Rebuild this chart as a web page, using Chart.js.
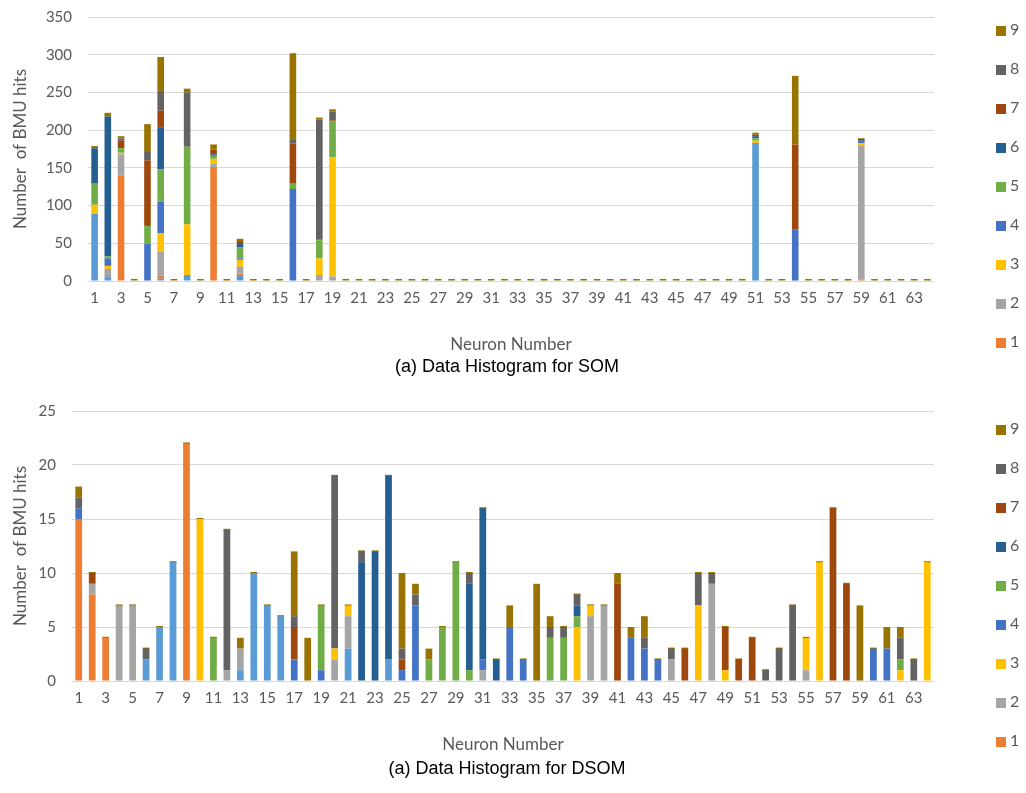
<!DOCTYPE html>
<html lang="en">
<head>
<meta charset="UTF-8">
<title>Data Histograms for SOM and DSOM</title>
<script src="https://cdn.jsdelivr.net/npm/chart.js"></script>
<style>
  body { margin: 0; background: #fff; width: 1026px; height: 793px; position: relative; overflow: hidden; }
  canvas { position: absolute; left: 0; }
  #som { top: 0; }
  #dsom { top: 394px; }
  .caption { position: absolute; left: 0; width: 1014px; text-align: center; font: 18px "Liberation Sans", Arial, sans-serif; color: #000; line-height: 20px; }
  .legend { position: absolute; left: 996px; margin: 0; padding: 0; list-style: none; font: 16px Lato, sans-serif; color: #595959; }
  .legend li { position: absolute; left: 0; height: 16px; line-height: 16px; white-space: nowrap; }
  .legend span { display: inline-block; width: 10px; height: 10px; margin-right: 4px; vertical-align: -1px; }
</style>
</head>
<body>
  <canvas id="som" width="1026" height="360"></canvas>
  <ul class="legend" id="somLegend" style="top:0"></ul>
  <div class="caption" style="top:356px">(a) Data Histogram for SOM</div>

  <canvas id="dsom" width="1026" height="366"></canvas>
  <ul class="legend" id="dsomLegend" style="top:399px"></ul>
  <div class="caption" style="top:758px">(a) Data Histogram for DSOM</div>

<script>
// neuron numbers on the x axis
var neurons = ['1','2','3','4','5','6','7','8','9','10','11','12','13','14','15','16',
  '17','18','19','20','21','22','23','24','25','26','27','28','29','30','31','32',
  '33','34','35','36','37','38','39','40','41','42','43','44','45','46','47','48',
  '49','50','51','52','53','54','55','56','57','58','59','60','61','62','63','64'];

// class labels (0 is drawn but not listed in the legend, like the original)
var classes = ['0','1','2','3','4','5','6','7','8','9'];
var classColors = ['#5B9BD5','#ED7D31','#A5A5A5','#FFC000','#4472C4',
  '#70AD47','#255E91','#9E480E','#636363','#997300'];

// ---- SOM: BMU hits per neuron, one array per class ----
var som0 = [89,6,0,0,0,3,0,8,0,0,0,8,0,0,0,0, 0,0,0,0,0,0,0,0,0,0,0,0,0,0,0,0,
  0,0,0,0,0,0,0,0,0,0,0,0,0,0,0,0, 0,0,183,0,0,0,0,0,0,0,0,0,0,0,0,0];
var som1 = [0,2,140,0,0,4,0,0,0,151,0,2,0,0,0,0, 0,0,0,0,0,0,0,0,0,0,0,0,0,0,0,0,
  0,0,0,0,0,0,0,0,0,0,0,0,0,0,0,0, 0,0,0,0,0,0,0,0,0,0,2,0,0,0,0,0];
var som2 = [0,8,28,0,0,32,0,0,0,4,0,9,0,0,0,0, 0,8,6,0,0,0,0,0,0,0,0,0,0,0,0,0,
  0,0,0,0,0,0,0,0,0,0,0,0,0,0,0,0, 0,0,0,0,0,0,0,0,0,0,177,0,0,0,0,0];
var som3 = [12,4,2,0,0,24,0,67,0,7,0,9,0,0,0,0, 0,22,158,0,0,0,0,0,0,0,0,0,0,0,0,0,
  0,0,0,0,0,0,0,0,0,0,0,0,0,0,0,0, 0,0,3,0,0,0,0,0,0,0,4,0,0,0,0,0];
var som4 = [0,10,0,0,49,42,0,0,0,0,0,2,0,0,0,122, 0,0,0,0,0,0,0,0,0,0,0,0,0,0,0,0,
  0,0,0,0,0,0,0,0,0,0,0,0,0,0,0,0, 0,0,0,0,0,68,0,0,0,0,3,0,0,0,0,0];
var som5 = [28,3,6,0,24,43,0,103,0,4,0,15,0,0,0,7, 0,24,48,0,0,0,0,0,0,0,0,0,0,0,0,0,
  0,0,0,0,0,0,0,0,0,0,0,0,0,0,0,0, 0,0,3,0,0,0,0,0,0,0,0,0,0,0,0,0];
var som6 = [47,185,0,0,0,55,0,0,0,2,0,4,0,0,0,0, 0,0,0,0,0,0,0,0,0,0,0,0,0,0,0,0,
  0,0,0,0,0,0,0,0,0,0,0,0,0,0,0,0, 0,0,3,0,0,0,0,0,0,0,2,0,0,0,0,0];
var som7 = [0,0,10,0,87,23,0,0,0,6,0,4,0,0,0,53, 0,1,1,0,0,0,0,0,0,0,0,0,0,0,0,0,
  0,0,0,0,0,0,0,0,0,0,0,0,0,0,0,0, 0,0,2,0,0,113,0,0,0,0,0,0,0,0,0,0];
var som8 = [0,0,3,0,11,26,0,72,0,0,0,0,0,0,0,5, 0,159,12,0,0,0,0,0,0,0,0,0,0,0,0,0,
  0,0,0,0,0,0,0,0,0,0,0,0,0,0,0,0, 0,0,0,0,0,0,0,0,0,0,0,0,0,0,0,0];
var som9 = [3,5,3,0,37,45,0,5,0,7,0,3,0,0,0,115, 0,2,2,0,0,0,0,0,0,0,0,0,0,0,0,0,
  0,0,0,0,0,0,0,0,0,0,0,0,0,0,0,0, 0,0,2,0,0,91,0,0,0,0,0,0,0,0,0,0];

// ---- DSOM ----
var dsom0 = [0,0,0,0,0,2,5,11,0,0,0,0,1,10,7,6, 0,0,0,0,3,0,0,2,0,0,0,0,0,0,0,0,
  0,0,0,0,0,0,0,0,0,0,0,0,0,0,0,0, 0,0,0,0,0,0,0,0,0,0,0,0,0,0,0,0];
var dsom1 = [15,8,4,0,0,0,0,0,22,0,0,0,0,0,0,0, 0,0,0,0,0,0,0,0,0,0,0,0,0,0,0,0,
  0,0,0,0,0,0,0,0,0,0,0,0,0,0,0,0, 0,0,0,0,0,0,0,0,0,0,0,0,0,0,0,0];
var dsom2 = [0,1,0,7,7,0,0,0,0,0,0,1,2,0,0,0, 0,0,0,2,3,0,0,0,0,0,0,0,0,0,1,0,
  0,0,0,0,0,0,6,7,0,0,0,0,2,0,0,9, 0,0,0,0,0,0,1,0,0,0,0,0,0,0,0,0];
var dsom3 = [0,0,0,0,0,0,0,0,0,15,0,0,0,0,0,0, 0,0,0,1,1,0,0,0,0,0,0,0,0,0,0,0,
  0,0,0,0,0,5,1,0,0,0,0,0,0,0,7,0, 1,0,0,0,0,0,3,11,0,0,0,0,0,1,0,11];
var dsom4 = [1,0,0,0,0,0,0,0,0,0,0,0,0,0,0,0, 2,0,1,0,0,0,0,0,1,7,0,0,0,0,1,0,
  5,2,0,0,0,0,0,0,0,4,3,2,0,0,0,0, 0,0,0,0,0,0,0,0,0,0,0,3,3,0,0,0];
var dsom5 = [0,0,0,0,0,0,0,0,0,0,4,0,0,0,0,0, 0,0,6,0,0,0,0,0,0,0,2,5,11,1,0,0,
  0,0,0,4,4,1,0,0,0,0,0,0,0,0,0,0, 0,0,0,0,0,0,0,0,0,0,0,0,0,1,0,0];
var dsom6 = [0,0,0,0,0,0,0,0,0,0,0,0,0,0,0,0, 0,0,0,0,0,11,12,17,0,0,0,0,0,8,14,2,
  0,0,0,0,0,1,0,0,0,0,0,0,0,0,0,0, 0,0,0,0,0,0,0,0,0,0,0,0,0,0,0,0];
var dsom7 = [0,1,0,0,0,0,0,0,0,0,0,0,0,0,0,0, 3,0,0,0,0,0,0,0,1,0,0,0,0,0,0,0,
  0,0,0,0,0,0,0,0,9,0,0,0,0,3,0,0, 4,2,4,0,0,0,0,0,16,9,0,0,0,0,0,0];
var dsom8 = [1,0,0,0,0,1,0,0,0,0,0,13,0,0,0,0, 1,0,0,16,0,1,0,0,1,1,0,0,0,1,0,0,
  0,0,0,1,1,1,0,0,0,0,1,0,1,0,3,1, 0,0,0,1,3,7,0,0,0,0,0,0,0,2,2,0];
var dsom9 = [1,0,0,0,0,0,0,0,0,0,0,0,1,0,0,0, 6,4,0,0,0,0,0,0,7,1,1,0,0,0,0,0,
  2,0,9,1,0,0,0,0,1,1,2,0,0,0,0,0, 0,0,0,0,0,0,0,0,0,0,7,0,2,1,0,0];

var somSeries = [som0, som1, som2, som3, som4, som5, som6, som7, som8, som9];
var dsomSeries = [dsom0, dsom1, dsom2, dsom3, dsom4, dsom5, dsom6, dsom7, dsom8, dsom9];

var textColor = '#595959';
var fontFamily = 'Lato, sans-serif';

function makeChart(id, series, yMax, yStep, axisWidth) {
  var ctx = document.getElementById(id).getContext('2d');
  return new Chart(ctx, {
    type: 'bar',
    data: {
      labels: neurons,
      datasets: series.map(function (values, i) {
        return {
          label: classes[i],
          data: values,
          backgroundColor: classColors[i],
          borderWidth: 0,
          barPercentage: 0.5,
          categoryPercentage: 1,
          // the top class gets a thin cap, like the original's empty-column dashes
          minBarLength: i === 9 ? 2 : 0
        };
      })
    },
    options: {
      responsive: false,
      animation: false,
      layout: { padding: { left: 8, right: 92, top: 17, bottom: 2 } },
      plugins: { legend: { display: false }, tooltip: { enabled: false } },
      scales: {
        x: {
          stacked: true,
          grid: { display: false, drawTicks: false },
          border: { display: false },
          ticks: {
            autoSkip: false, maxRotation: 0, minRotation: 0, padding: 8,
            color: textColor, font: { family: fontFamily, size: 15 },
            callback: function (v, i) { return i % 2 === 0 ? neurons[i] : ''; }
          },
          title: {
            display: true, text: 'Neuron Number', color: textColor,
            font: { family: fontFamily, size: 17 }, padding: { top: 0, bottom: 3 }
          },
          afterFit: function (s) { s.height = 77; }
        },
        y: {
          stacked: true, min: 0, max: yMax,
          // invisible tick marks keep the labels away from the grid
          grid: { color: '#D9D9D9', drawTicks: true, tickLength: 13, tickColor: 'rgba(0,0,0,0)' },
          border: { display: false },
          ticks: { stepSize: yStep, padding: 3, color: textColor, font: { family: fontFamily, size: 15 } },
          title: {
            display: true, text: 'Number  of BMU hits', color: textColor,
            font: { family: fontFamily, size: 17 }, padding: { top: 2, bottom: 0 }
          },
          afterFit: function (s) { s.width = axisWidth; }
        }
      }
    }
  });
}

function makeLegend(id, firstY) {
  var ul = document.getElementById(id);
  for (var k = 9; k >= 1; k--) {
    var li = document.createElement('li');
    li.style.top = (firstY + (9 - k) * 39 - 8) + 'px';
    li.innerHTML = '<span style="background:' + classColors[k] + '"></span>' + classes[k];
    ul.appendChild(li);
  }
}

makeChart('som', somSeries, 350, 50, 80);
makeChart('dsom', dsomSeries, 25, 5, 64);
makeLegend('somLegend', 29);
makeLegend('dsomLegend', 29);
</script>
</body>
</html>
